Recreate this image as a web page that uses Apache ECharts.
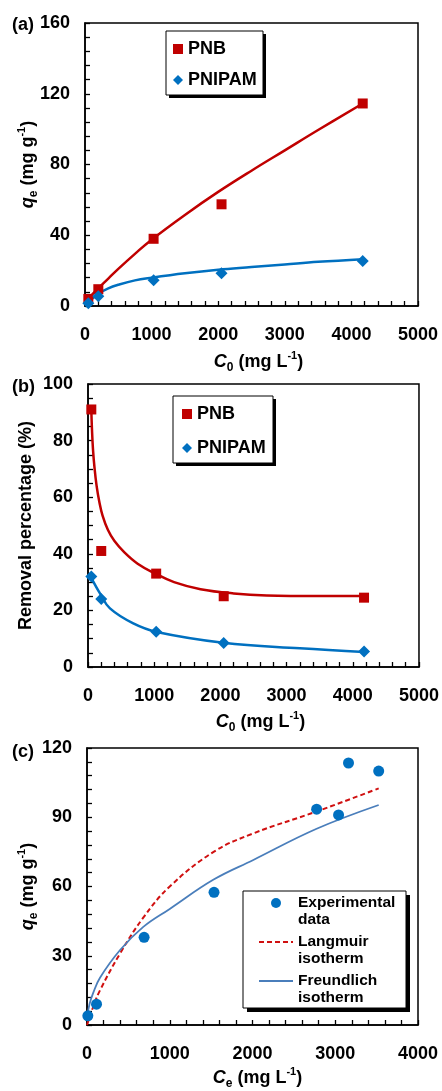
<!DOCTYPE html>
<html>
<head>
<meta charset="utf-8">
<script src="https://cdn.jsdelivr.net/npm/echarts@6/dist/echarts.min.js"></script>
<style>
  html, body { margin: 0; padding: 0; background: #fff; }
  #chart { width: 442px; height: 1091px; }
</style>
</head>
<body>
<div id="chart"></div>
<script>
// (a) q_e vs C0
const c0 = [50, 200, 1030, 2050, 4170];
const qePNB = [4, 9.5, 38, 57.5, 114.5];
const qePNIPAM = [1.5, 5.5, 14.5, 18.5, 25.5];
const fitC0A = [50, 120, 200, 350, 500, 750, 1000, 1500, 2000, 2500, 3000, 3500, 4170];
const fitQePNB = [4, 7, 10, 15.5, 21, 29.5, 37.5, 51.5, 64.5, 76.5, 88, 99.5, 114.5];
const fitQePNIPAM = [2, 4.5, 7, 10, 12, 14.5, 16, 18.5, 20.5, 22, 23.5, 25, 26.5];

// (b) removal percentage vs C0
const removalPNB = [91, 41, 33, 25, 24.5];
const removalPNIPAM = [32, 24, 12.5, 8.5, 5.5];
const fitC0B1 = [50, 60, 75, 100, 130, 170, 220, 300, 400, 550, 750, 1000, 1300, 1700, 2200, 2700, 3500, 4170];
const fitRemPNB = [91, 84, 77, 70, 64, 58.5, 53.5, 48.5, 44.5, 40.5, 36.5, 33.2, 30, 27.5, 26, 25.3, 25.1, 25.1];
const fitC0B2 = [50, 181, 332, 684, 1038, 2043, 3200, 4170];
const fitRemPNIPAM = [31.5, 26, 20.7, 15.4, 12.4, 8.6, 6.6, 5.3];

// (c) isotherm fits
const ce = [10, 115, 690, 1535, 2775, 3040, 3160, 3525];
const qeExp = [4, 9, 38, 57.5, 93.5, 91, 113.5, 110];
const ceLang = [0, 76, 157, 400, 680, 1000, 1530, 2010, 2775, 3525];
const qeLang = [0, 8, 15, 31, 46.5, 60, 75, 83, 92.5, 102.5];
const ceFreu = [5, 30, 76, 157, 400, 680, 1000, 1530, 2010, 2775, 3525];
const qeFreu = [4, 9, 14, 20.5, 32.5, 42.5, 50.3, 63, 71.5, 85, 95.3];

const RED = '#C00000';
const BLUE = '#0070C0';
const FONT = 'Arial, "Liberation Sans", sans-serif';

const zip = (xs, ys) => xs.map((x, i) => [x, ys[i]]);

const nameRich = {
  n: { fontFamily: FONT, fontWeight: 'bold', fontSize: 18, lineHeight: 24, color: '#000' },
  i: { fontFamily: FONT, fontWeight: 'bold', fontStyle: 'italic', fontSize: 18, lineHeight: 24, color: '#000' },
  sub: { fontFamily: FONT, fontWeight: 'bold', fontSize: 12, lineHeight: 24, verticalAlign: 'bottom', color: '#000' },
  sup: { fontFamily: FONT, fontWeight: 'bold', fontSize: 11, lineHeight: 24, verticalAlign: 'top', color: '#000' }
};

const axisBase = (idx, max, interval, minorSplit, name, nameGap, isY, namePad) => ({
  type: 'value',
  gridIndex: idx,
  min: 0, max: max, interval: interval,
  name: name,
  nameLocation: 'middle',
  nameGap: nameGap,
  nameMoveOverlap: false,
  nameRotate: isY ? 90 : 0,
  nameTextStyle: { rich: nameRich, padding: namePad || 0 },
  axisLine: { show: true, onZero: false, lineStyle: { color: '#000', width: 1.5 } },
  axisTick: { show: true, inside: true, length: 5, lineStyle: { color: '#000', width: 1.3 } },
  minorTick: { show: true, splitNumber: minorSplit, length: 5, lineStyle: { color: '#000', width: 1.3 } },
  splitLine: { show: false },
  axisLabel: {
    color: '#000', fontFamily: FONT, fontWeight: 'bold', fontSize: 18,
    margin: isY ? 15 : 20, formatter: (v) => String(v)
  }
});

// legend frame with offset drop shadow
const frame = (x, y, w, h, off) => [
  { type: 'rect', z: 4, silent: true, shape: { x: x + off, y: y + off, width: w, height: h }, style: { fill: '#000' } },
  { type: 'rect', z: 4, silent: true, shape: { x: x, y: y, width: w, height: h }, style: { fill: '#fff', stroke: '#000', lineWidth: 1 } }
];

const legendText = { fontFamily: FONT, fontWeight: 'bold', fontSize: 18, color: '#000' };
const hideSymbol = { opacity: 0 };
const fitLine = { type: 'line', smooth: 0.4, symbol: 'none', z: 2 };
const dots = { type: 'scatter', z: 3 };

const chart = echarts.init(document.getElementById('chart'));

chart.setOption({
  animation: false,
  backgroundColor: '#fff',
  grid: [
    { left: 85, top: 23, width: 333, height: 283, show: true, borderColor: '#000', borderWidth: 1.5 },
    { left: 88, top: 384, width: 331, height: 283, show: true, borderColor: '#000', borderWidth: 1.5 },
    { left: 87, top: 748, width: 331, height: 282, show: true, borderColor: '#000', borderWidth: 1.5 }
  ],
  xAxis: [
    axisBase(0, 5000, 1000, 5, '{i|C}{sub|0}{n| (mg L}{sup|-1}{n|)}', 44, false, [0, 0, 0, 14]),
    axisBase(1, 5000, 1000, 5, '{i|C}{sub|0}{n| (mg L}{sup|-1}{n|)}', 43, false, [0, 0, 0, 14]),
    axisBase(2, 4000, 1000, 5, '{i|C}{sub|e}{n| (mg L}{sup|-1}{n|)}', 41, false, [0, 0, 0, 10])
  ],
  yAxis: [
    axisBase(0, 160, 40, 5, '{i|q}{sub|e}{n| (mg g}{sup|-1}{n|)}', 45, true),
    axisBase(1, 100, 20, 4, '{n|Removal percentage (%)}', 50, true),
    axisBase(2, 120, 30, 5, '{i|q}{sub|e}{n| (mg g}{sup|-1}{n|)}', 47, true)
  ],
  legend: [
    {
      data: [{ name: 'PNB', icon: 'rect' }, { name: 'PNIPAM', icon: 'diamond' }],
      orient: 'vertical', left: 166, top: 31, z: 5,
      itemWidth: 10, itemHeight: 10, itemGap: 13,
      padding: [9, 5, 6, 7],
      textStyle: legendText,
      selectedMode: false
    },
    {
      data: [{ name: 'PNB', icon: 'rect' }, { name: 'PNIPAM', icon: 'diamond' }],
      orient: 'vertical', left: 173, top: 396, z: 5,
      itemWidth: 10, itemHeight: 10, itemGap: 16,
      padding: [9, 6, 6, 9],
      textStyle: legendText,
      selectedMode: false
    },
    {
      data: [
        { name: 'Experimental data', icon: 'circle' },
        { name: 'Langmuir isotherm', itemStyle: hideSymbol },
        { name: 'Freundlich isotherm', itemStyle: hideSymbol }
      ],
      // blank first line keeps the icon level with the first text line
      formatter: (n) => '\n' + n.replace(' ', '\n'),
      orient: 'vertical', left: 258, top: 877.5, z: 5,
      itemWidth: 34, itemHeight: 10, itemGap: -12,
      padding: 0,
      textStyle: { fontFamily: FONT, fontWeight: 'bold', fontSize: 15.5, lineHeight: 17, color: '#000' },
      selectedMode: false
    }
  ],
  graphic: [
    { type: 'text', left: 12, top: 16, style: { text: '(a)', font: 'bold 18px ' + FONT, fill: '#000' } },
    { type: 'text', left: 12, top: 378, style: { text: '(b)', font: 'bold 18px ' + FONT, fill: '#000' } },
    { type: 'text', left: 12, top: 743, style: { text: '(c)', font: 'bold 18px ' + FONT, fill: '#000' } },
    ...frame(166, 31, 97, 64, 3),
    ...frame(173, 396, 100, 67, 3),
    ...frame(243, 891, 163, 117, 4)
  ],
  series: [
    // (a)
    { ...fitLine, name: 'PNB fit a', xAxisIndex: 0, yAxisIndex: 0, data: zip(fitC0A, fitQePNB), lineStyle: { color: RED, width: 2.5 } },
    { ...fitLine, name: 'PNIPAM fit a', xAxisIndex: 0, yAxisIndex: 0, data: zip(fitC0A, fitQePNIPAM), lineStyle: { color: BLUE, width: 2.5 } },
    { ...dots, name: 'PNB', xAxisIndex: 0, yAxisIndex: 0, data: zip(c0, qePNB), symbol: 'rect', symbolSize: 10, itemStyle: { color: RED, opacity: 1 } },
    { ...dots, name: 'PNIPAM', xAxisIndex: 0, yAxisIndex: 0, data: zip(c0, qePNIPAM), symbol: 'diamond', symbolSize: 12, itemStyle: { color: BLUE, opacity: 1 } },
    // (b)
    { ...fitLine, name: 'PNB fit b', xAxisIndex: 1, yAxisIndex: 1, data: zip(fitC0B1, fitRemPNB), lineStyle: { color: RED, width: 2.5 } },
    { ...fitLine, name: 'PNIPAM fit b', xAxisIndex: 1, yAxisIndex: 1, data: zip(fitC0B2, fitRemPNIPAM), lineStyle: { color: BLUE, width: 2.5 } },
    { ...dots, name: 'PNB', xAxisIndex: 1, yAxisIndex: 1, data: zip(c0, removalPNB), symbol: 'rect', symbolSize: 10, itemStyle: { color: RED, opacity: 1 } },
    { ...dots, name: 'PNIPAM', xAxisIndex: 1, yAxisIndex: 1, data: zip(c0, removalPNIPAM), symbol: 'diamond', symbolSize: 12, itemStyle: { color: BLUE, opacity: 1 } },
    // (c)
    { ...dots, name: 'Experimental data', xAxisIndex: 2, yAxisIndex: 2, data: zip(ce, qeExp), symbol: 'circle', symbolSize: 11, itemStyle: { color: BLUE, opacity: 1 } },
    { ...fitLine, name: 'Langmuir isotherm', xAxisIndex: 2, yAxisIndex: 2, data: zip(ceLang, qeLang), itemStyle: { color: '#D01010' }, lineStyle: { color: '#D01010', width: 2, type: [5, 3] } },
    { ...fitLine, name: 'Freundlich isotherm', xAxisIndex: 2, yAxisIndex: 2, data: zip(ceFreu, qeFreu), itemStyle: { color: '#4A7EBB' }, lineStyle: { color: '#4A7EBB', width: 1.8 } }
  ]
});
</script>
</body>
</html>
